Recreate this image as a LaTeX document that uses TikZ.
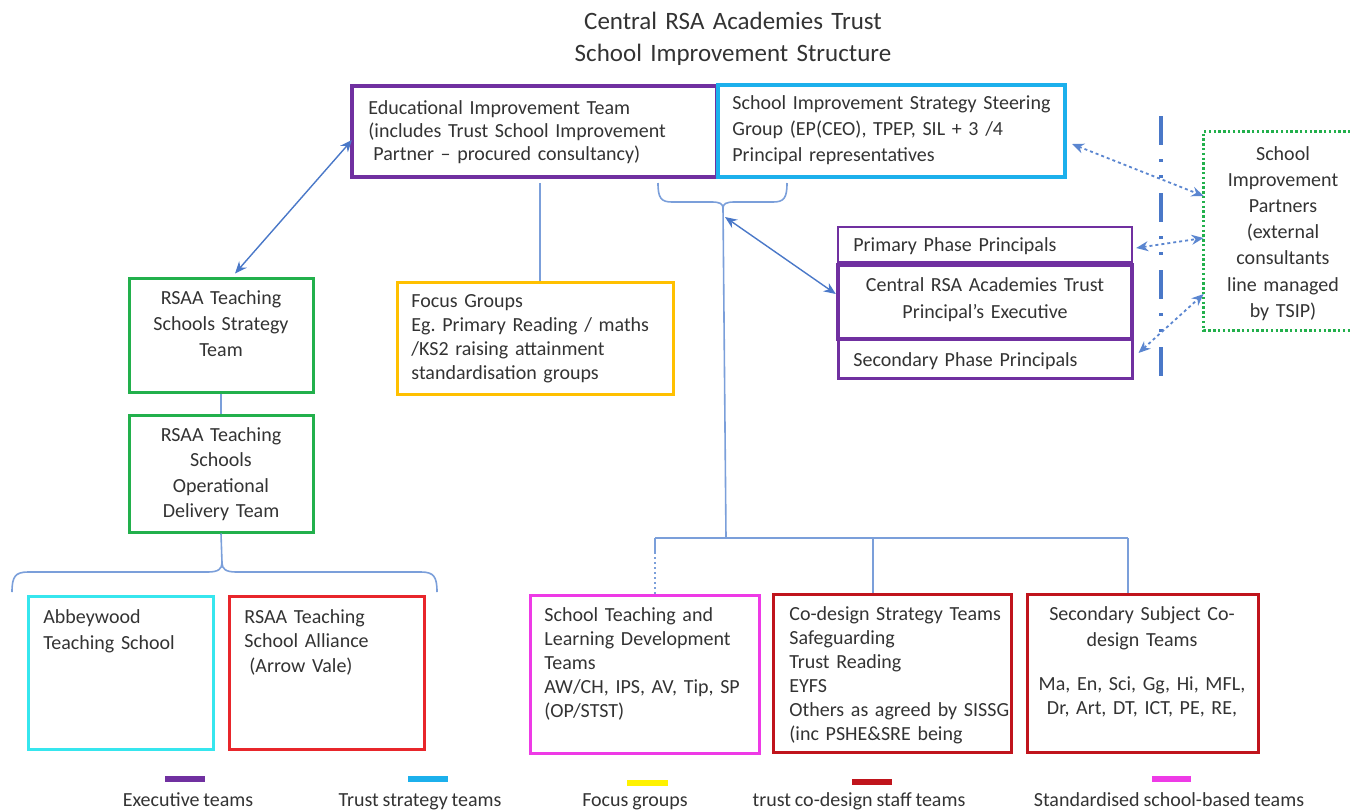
\documentclass[tikz,border=0pt]{standalone}
\usepackage{fontspec}
\setmainfont{Carlito}[WordSpace=0.85]
\frenchspacing
\usetikzlibrary{fit,arrows.meta}
\definecolor{cpurple}{HTML}{7030A0}
\definecolor{ccyan}{HTML}{1CB0EC}
\definecolor{cgreen}{HTML}{22B04C}
\definecolor{cgold}{HTML}{FFC000}
\definecolor{caqua}{HTML}{36E6EE}
\definecolor{cred}{HTML}{E8262B}
\definecolor{cdred}{HTML}{C0141C}
\definecolor{cmag}{HTML}{EE3AE6}
\definecolor{cline}{HTML}{7B9FDA}
\definecolor{carrow}{HTML}{4A78C8}
\definecolor{cdot}{HTML}{5B86D0}
\definecolor{cyel}{HTML}{FFF200}
\definecolor{ctxt}{HTML}{333333}
\begin{document}
\begin{tikzpicture}[x=0.5pt,y=-0.5pt,
  bx/.style={inner sep=0pt, rectangle, line width=1.5pt},
  txt/.style={text=ctxt, inner sep=0pt, font=\fontsize{10}{12}\selectfont},
  ln/.style={draw=cline, line width=0.8pt},
  darr/.style={draw=carrow, line width=0.7pt, {Stealth[length=6pt,width=5pt]}-{Stealth[length=6pt,width=5pt]}},
  dotarr/.style={draw=cdot, line width=0.9pt, dash pattern=on 1.5pt off 1.5pt, {Stealth[length=6pt,width=5pt]}-{Stealth[length=6pt,width=5pt]}},
  ddash/.style={draw=carrow, line width=1.6pt, dash pattern=on 14.5pt off 7pt on 1.5pt off 6.5pt on 1.5pt off 7.5pt},
  legbar/.style={line width=2.6pt},
]
\useasboundingbox (0,0) rectangle (1350,809);

% title
\node[txt, font=\fontsize{12.5}{16}\selectfont, text width=250pt, align=center, anchor=base] (title) at (733,29) {Central RSA Academies Trust\\School Improvement Structure};

% boxes
\node[bx, draw=cpurple, line width=2pt, fit={(352,86) (717,177)}] (eit) {};
\node[bx, draw=ccyan, line width=2pt, fit={(718,85) (1065,177)}] (sissg) {};
\node[bx, draw=cgreen, fit={(129,278) (313,392)}] (rss) {};
\node[bx, draw=cgreen, fit={(129,415) (313,532)}] (rso) {};
\node[bx, draw=cgold, fit={(397,282) (673,394)}] (focus) {};
\node[bx, draw=cpurple, line width=1.2pt, fit={(838,227) (1132,262)}] (ppp) {};
\node[bx, draw=cpurple, line width=1.5pt, fit={(838,339) (1132,378)}] (spp) {};
\node[bx, draw=cpurple, line width=2.2pt, fit={(838,265) (1132,339)}] (exec) {};
\node[inner sep=0pt, fit={(1204,132) (1350,330)}] (sip) {};
\draw[draw=cgreen, line width=1.2pt, dash pattern=on 1.2pt off 1.2pt] (sip.north east) -- (sip.north west) -- (sip.south west) -- (sip.south east);
\node[bx, draw=caqua, fit={(28,596) (213,749)}] (abw) {};
\node[bx, draw=cred, fit={(229,596) (424,749)}] (rta) {};
\node[bx, draw=cmag, fit={(530,595) (759,753)}] (stl) {};
\node[bx, draw=cdred, fit={(773,594) (1011,752)}] (cds) {};
\node[bx, draw=cdred, fit={(1027,594) (1258,752)}] (sst) {};

% texts
\node[txt, font=\fontsize{10}{11.5}\selectfont, text width=180pt, align=left, anchor=base west] (eit-t) at (368,114) {Educational Improvement Team\\(includes Trust School Improvement\\\hspace*{2.5pt}Partner -- procured consultancy)};
\node[txt, font=\fontsize{10}{13}\selectfont, text width=170pt, align=left, anchor=base west] (sissg-t) at (732,109) {School Improvement Strategy Steering\\Group (EP(CEO), TPEP, SIL + 3 /4\\Principal representatives};
\node[txt, font=\fontsize{10}{13}\selectfont, text width=90pt, align=center, anchor=base] (rss-t) at (221,304) {RSAA Teaching\\Schools Strategy\\Team};
\node[txt, font=\fontsize{10}{12.8}\selectfont, text width=90pt, align=center, anchor=base] (rso-t) at (221,441) {RSAA Teaching\\Schools\\Operational\\Delivery Team};
\node[txt, text width=135pt, align=left, anchor=base west] (focus-t) at (411,307) {Focus Groups\\Eg. Primary Reading / maths\\/KS2 raising attainment\\standardisation groups};
\node[txt, text width=140pt, align=left, anchor=base west] (ppp-t) at (853,251) {Primary Phase Principals};
\node[txt, font=\fontsize{10}{13.5}\selectfont, text width=140pt, align=center, anchor=base] (exec-t) at (985,291) {Central RSA Academies Trust\\Principal’s Executive};
\node[txt, text width=140pt, align=left, anchor=base west] (spp-t) at (853,366) {Secondary Phase Principals};
\node[txt, font=\fontsize{10}{13.1}\selectfont, text width=70pt, align=center, anchor=base] (sip-t) at (1283,160) {School\\Improvement\\Partners\\(external\\consultants\\line managed\\by TSIP)};
\node[txt, font=\fontsize{10}{13}\selectfont, text width=88pt, align=left, anchor=base west] (abw-t) at (43,623) {Abbeywood\\Teaching School};
\node[txt, font=\fontsize{10}{12.3}\selectfont, text width=88pt, align=left, anchor=base west] (rta-t) at (244,623) {RSAA Teaching\\School Alliance\\\hspace*{2.5pt}(Arrow Vale)};
\node[txt, text width=110pt, align=left, anchor=base west] (stl-t) at (544,621) {School Teaching and\\Learning Development\\Teams\\AW/CH, IPS, AV, Tip, SP\\(OP/STST)};
\node[txt, text width=112pt, align=left, anchor=base west] (cds-t) at (789,620) {Co-design Strategy Teams\\Safeguarding\\Trust Reading\\EYFS\\Others as agreed by SISSG\\(inc PSHE\&SRE being};
\node[txt, text width=112pt, align=center, anchor=base] (sst-t) at (1142,620) {Secondary Subject Co-\\[1pt]design Teams\\[10pt]Ma, En, Sci, Gg, Hi, MFL,\\Dr, Art, DT, ICT, PE, RE,};

% coordinates
\coordinate (fx) at (540,0);
\coordinate (cbr) at (723,208);
\coordinate (brc) at (725,217);
\coordinate (bar-c) at (726,538);
\coordinate (bar-l) at (655,538);
\coordinate (bar-ld) at (655,552);
\coordinate (bar-m) at (873,538);
\coordinate (bar-r) at (1128,538);
\coordinate (lbc) at (222,563);
\coordinate (dd1) at (1161,116);
\coordinate (dd2) at (1161,378);

% braces
\draw[ln] (658,183) .. controls (658,198) and (661,202) .. (672,202) -- (712,202) .. controls (720,202) and (723,204) .. (cbr) .. controls (723,204) and (726,202) .. (734,202) -- (773,202) .. controls (784,202) and (787,198) .. (787,183);
\draw[ln] (12,592) .. controls (12,577) and (15,572) .. (28,572) -- (208,572) .. controls (218,572) and (222,569) .. (lbc) .. controls (222,569) and (226,572) .. (236,572) -- (421,572) .. controls (434,572) and (437,577) .. (437,592);

% connectors
\draw[ln] ([yshift=-2pt]fx |- eit.south) -- (fx |- focus.north);
\draw[ln] (rss.south) -- (rso.north);
\draw[ln] (rso.south) -- (lbc);
\draw[ln] (cbr) -- (bar-c);
\draw[ln] (bar-l) -- (bar-r);
\draw[ln] (bar-l) -- (bar-ld);
\draw[ln, dash pattern=on 1pt off 1.5pt] (bar-ld) -- (bar-ld |- stl.north);
\draw[ln] (bar-m) -- (bar-m |- cds.north);
\draw[ln] (bar-r) -- (bar-r |- sst.north);

\draw[darr] ([xshift=1pt,yshift=-4.25pt]eit.west) -- ([xshift=7pt,yshift=1.5pt]rss.north);
\draw[darr] (brc) -- ([yshift=4pt]exec.west);

\draw[ddash] (dd1) -- (dd2);
\draw[dotarr] ([xshift=2.5pt,yshift=-6.5pt]sissg.east) -- ([yshift=17.5pt]sip.west);
\draw[dotarr] ([xshift=1.5pt,yshift=-1.75pt]ppp.east) -- ([yshift=-3.5pt]sip.west);
\draw[dotarr] ([xshift=2.5pt,yshift=2.75pt]spp.east) -- ([yshift=-31.5pt]sip.west);

% legend
\draw[legbar, cpurple] (165,779) -- (205,779);
\draw[legbar, ccyan] (408,779) -- (448,779);
\draw[legbar, cyel] (627,783) -- (668,783);
\draw[legbar, cdred] (852,782) -- (892,782);
\draw[legbar, cmag] (1152,779) -- (1191,779);
\node[txt, anchor=base] (lg1) at (188,806) {Executive teams};
\node[txt, anchor=base] (lg2) at (420,806) {Trust strategy teams};
\node[txt, anchor=base] (lg3) at (635,806) {Focus groups};
\node[txt, anchor=base] (lg4) at (859,806) {trust co-design staff teams};
\node[txt, anchor=base] (lg5) at (1169,806) {Standardised school-based teams};
\end{tikzpicture}
\end{document}
